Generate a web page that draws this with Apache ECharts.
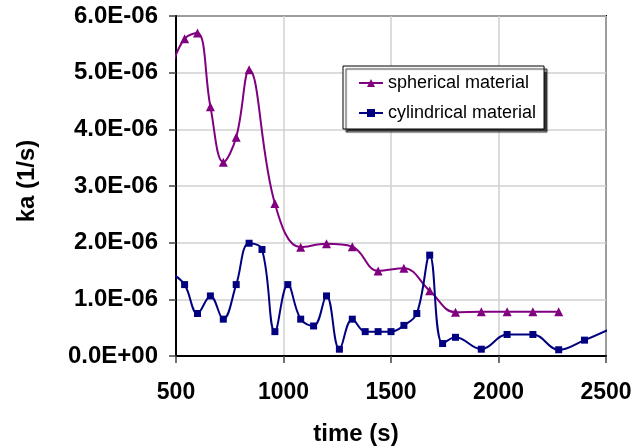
<!DOCTYPE html>
<html>
<head>
<meta charset="utf-8">
<script src="https://cdn.jsdelivr.net/npm/echarts@6/dist/echarts.min.js"></script>
<style>
  html, body { margin: 0; padding: 0; background: #fff; }
  #chart { width: 635px; height: 448px; }
</style>
</head>
<body>
<div id="chart"></div>
<script>
// spherical material (triangles), first point is outside the axis range
var sphTime = [480, 540, 600, 660, 720, 780, 840, 960, 1080, 1200, 1320, 1440, 1560, 1680, 1800, 1920, 2040, 2160, 2280];
var sphKa = [5.1, 5.6, 5.7, 4.4, 3.42, 3.86, 5.05, 2.69, 1.92, 1.98, 1.93, 1.5, 1.55, 1.15, 0.77, 0.78, 0.78, 0.78, 0.78];

// cylindrical material (squares), first and last point outside the axis range
var cylTime = [480, 540, 600, 660, 720, 780, 840, 900, 960, 1020, 1080, 1140, 1200, 1260, 1320, 1380, 1440, 1500, 1560, 1620, 1680, 1740, 1800, 1920, 2040, 2160, 2280, 2400, 2520];
var cylKa = [1.46, 1.26, 0.75, 1.06, 0.65, 1.26, 1.99, 1.88, 0.43, 1.26, 0.65, 0.53, 1.06, 0.12, 0.65, 0.43, 0.43, 0.43, 0.54, 0.75, 1.78, 0.22, 0.33, 0.12, 0.38, 0.38, 0.11, 0.28, 0.48];

var xTicks = [500, 1000, 1500, 2000, 2500];

function toPoints(xs, ys) {
  return xs.map(function (x, i) {
    var p = { value: [x, ys[i] * 1e-6] };
    // points beyond the axis keep the line but show no marker
    if (x < xTicks[0] || x > xTicks[xTicks.length - 1]) p.symbol = 'none';
    return p;
  });
}

function sci(v) {
  var s = Number(v).toExponential(1).toUpperCase();
  var parts = s.split('E');
  var e = parseInt(parts[1], 10);
  var sign = e < 0 ? '-' : '+';
  var a = Math.abs(e);
  return parts[0] + 'E' + sign + (a < 10 ? '0' + a : a);
}

var font = 'Liberation Sans, Arial, sans-serif';

var chart = echarts.init(document.getElementById('chart'));
chart.setOption({
  animation: false,
  grid: {
    left: 176, right: 29, top: 16, bottom: 92,
    outerBoundsMode: 'none',
    show: true, borderColor: '#000', borderWidth: 2
  },
  legend: {
    orient: 'vertical',
    left: 343, top: 66,
    padding: [7, 8, 6, 15],
    itemGap: 10,
    itemWidth: 24,
    itemHeight: 10,
    backgroundColor: '#fff',
    borderColor: '#000',
    borderWidth: 1,
    borderRadius: 0,
    shadowColor: '#333',
    shadowBlur: 1,
    shadowOffsetX: 3,
    shadowOffsetY: 3,
    textStyle: { fontFamily: font, fontSize: 18, color: '#000', lineHeight: 20 },
    data: ['spherical material', 'cylindrical material']
  },
  xAxis: {
    type: 'value',
    min: 500, max: 2500, interval: 500,
    name: 'time (s)',
    nameLocation: 'middle',
    nameGap: 66,
    nameTextStyle: { fontFamily: font, fontSize: 24, fontWeight: 'bold', color: '#000', padding: [0, 70, 0, 0] },
    axisLine: { lineStyle: { color: '#000', width: 2 } },
    axisTick: { show: true, length: 7, lineStyle: { color: '#444', width: 1.5 } },
    axisLabel: {
      margin: 25, fontFamily: font, fontSize: 23, fontWeight: 'bold', color: '#000',
      formatter: function (v) { return String(v); }
    },
    splitLine: { show: true, lineStyle: { color: '#d0d0d0', width: 1.5 } }
  },
  yAxis: {
    type: 'value',
    min: 0, max: 6e-6, interval: 1e-6,
    name: 'ka (1/s)',
    nameLocation: 'middle',
    nameGap: 137,
    nameTextStyle: { fontFamily: font, fontSize: 24, fontWeight: 'bold', color: '#000', padding: [0, 0, 0, 10] },
    axisLine: { show: true, lineStyle: { color: '#000', width: 2 } },
    axisTick: { show: true, length: 7, lineStyle: { color: '#444', width: 1.5 } },
    axisLabel: {
      margin: 18, fontFamily: font, fontSize: 24, fontWeight: 'bold', color: '#000',
      formatter: sci
    },
    splitLine: { show: true, lineStyle: { color: '#d0d0d0', width: 1.5 } }
  },
  series: [
    {
      name: 'spherical material',
      type: 'line',
      smooth: 0.4,
      clip: false,
      symbol: 'triangle',
      symbolSize: 9,
      color: '#800080',
      lineStyle: { width: 2, color: '#800080' },
      itemStyle: { color: '#800080' },
      data: toPoints(sphTime, sphKa)
    },
    {
      name: 'cylindrical material',
      type: 'line',
      smooth: 0.4,
      clip: false,
      symbol: 'rect',
      symbolSize: 7,
      color: '#000080',
      lineStyle: { width: 2, color: '#000080' },
      itemStyle: { color: '#000080' },
      data: toPoints(cylTime, cylKa)
    }
  ]
});
</script>
</body>
</html>
